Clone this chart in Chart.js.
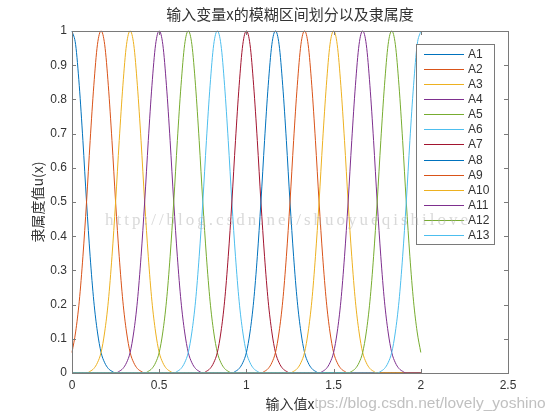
<!DOCTYPE html>
<html>
<head>
<meta charset="utf-8">
<script src="https://cdn.jsdelivr.net/npm/chart.js@4.4.1/dist/chart.umd.min.js"></script>
<style>
  html, body { margin: 0; padding: 0; background: #fff; }
  #wrap { width: 560px; height: 420px; }
</style>
</head>
<body>
<div id="wrap"><canvas id="fuzzy-chart" width="560" height="420"></canvas></div>
<script>
// ── Data ────────────────────────────────────────────────────────
const seriesNames = ['A1', 'A2', 'A3', 'A4', 'A5', 'A6', 'A7', 'A8', 'A9', 'A10', 'A11', 'A12', 'A13'];
// peak position of each membership function
const peakCenters = [0, 0.167, 0.333, 0.5, 0.667, 0.833, 1.0, 1.167, 1.333, 1.5, 1.667, 1.833, 2.0];
// membership height at 0, 1, 2 ... steps of 1/48 away from a peak (all curves share it)
const peakProfile = [1, 0.96, 0.84, 0.68, 0.5, 0.34, 0.21, 0.12, 0.06, 0.03, 0.013, 0.005, 0];
const sampleStep = 1 / 48;
const sampleCount = 97;          // samples over x = 0 .. 2
const seriesColors = ['#0072BD', '#D95319', '#EDB120', '#7E2F8E', '#77AC30', '#4DBEEE', '#A2142F',
                      '#0072BD', '#D95319', '#EDB120', '#7E2F8E', '#77AC30', '#4DBEEE'];
const xTickValues = [0, 0.5, 1, 1.5, 2, 2.5];
const xTickLabels = ['0', '0.5', '1', '1.5', '2', '2.5'];
const yTickValues = [0, 0.1, 0.2, 0.3, 0.4, 0.5, 0.6, 0.7, 0.8, 0.9, 1];
const yTickLabels = ['0', '0.1', '0.2', '0.3', '0.4', '0.5', '0.6', '0.7', '0.8', '0.9', '1'];

const titleText = '输入变量x的模糊区间划分以及隶属度';
const xTitle = '输入值x';
const yTitle = '隶属度值u(x)';
const watermarkMid = 'http://blog.csdn.net/shuoyueqishilove';
const watermarkCorner = 'https://blog.csdn.net/lovely_yoshino';

// ── Build datasets ──────────────────────────────────────────────
function profileAt(x, center) {
    const k = Math.round(Math.abs(x - center) / sampleStep);
    return k < peakProfile.length ? peakProfile[k] : 0;
}

const datasets = seriesNames.map((name, i) => {
    const pts = [];
    for (let s = 0; s < sampleCount; s++) {
        const x = s * sampleStep;
        pts.push({ x, y: profileAt(x, peakCenters[i]) });
    }
    return {
        label: name,
        data: pts,
        borderColor: seriesColors[i],
        borderWidth: 1,
        pointRadius: 0,
        fill: false,
        cubicInterpolationMode: 'monotone',
        clip: false,
        order: seriesNames.length - 1 - i,   // A13 on top
    };
});

// ── MATLAB-ish frame, titles, legend ───────────────────────────
const frameColor = '#7a7a7a';
const textColor = '#333333';

const matlabFrame = {
    id: 'matlabFrame',
    afterDraw(chart) {
        const { ctx, chartArea: a, scales } = chart;
        ctx.save();

        // box
        ctx.strokeStyle = frameColor;
        ctx.lineWidth = 1;
        ctx.strokeRect(Math.round(a.left) + 0.5, Math.round(a.top) + 0.5,
                       Math.round(a.right - a.left), Math.round(a.bottom - a.top));

        // inward ticks on all four sides
        const tl = 4;
        ctx.beginPath();
        xTickValues.forEach(v => {
            const px = Math.round(scales.x.getPixelForValue(v)) + 0.5;
            ctx.moveTo(px, a.bottom); ctx.lineTo(px, a.bottom - tl);
            ctx.moveTo(px, a.top); ctx.lineTo(px, a.top + tl);
        });
        yTickValues.forEach(v => {
            const py = Math.round(scales.y.getPixelForValue(v)) + 0.5;
            ctx.moveTo(a.left, py); ctx.lineTo(a.left + tl, py);
            ctx.moveTo(a.right, py); ctx.lineTo(a.right - tl, py);
        });
        ctx.stroke();

        // legend
        const lx = 416, ly = 44, lw = 78, lh = 200;
        ctx.fillStyle = '#fff';
        ctx.fillRect(lx, ly, lw, lh);
        ctx.strokeStyle = frameColor;
        ctx.strokeRect(lx + 0.5, ly + 0.5, lw, lh);
        ctx.font = '12px "Liberation Sans", Arial, sans-serif';
        ctx.textAlign = 'left';
        ctx.textBaseline = 'middle';
        seriesNames.forEach((name, i) => {
            const y = Math.round(54 + i * 15.08) + 0.5;
            ctx.strokeStyle = seriesColors[i];
            ctx.beginPath();
            ctx.moveTo(424, y); ctx.lineTo(464, y);
            ctx.stroke();
            ctx.fillStyle = textColor;
            ctx.fillText(name, 468, y);
        });

        // watermarks
        ctx.fillStyle = 'rgba(170,170,170,0.45)';
        ctx.font = '17px "Liberation Serif", "DejaVu Serif", serif';
        ctx.letterSpacing = '3px';
        ctx.fillText(watermarkMid, 105, 221);
        ctx.letterSpacing = '0px';
        ctx.fillStyle = 'rgba(185,185,185,0.9)';
        ctx.font = '15.5px "Liberation Sans", Arial, sans-serif';
        ctx.fillText(watermarkCorner, 301, 404);

        // titles
        ctx.fillStyle = textColor;
        ctx.textAlign = 'center';
        ctx.font = '15px "Noto Sans CJK SC", sans-serif';
        ctx.fillText(titleText, (a.left + a.right) / 2, 14);
        ctx.font = '14px "Noto Sans CJK SC", sans-serif';
        const xw = ctx.measureText(xTitle).width;
        const xc = (a.left + a.right) / 2;
        ctx.fillStyle = '#fff';
        ctx.fillRect(xc - xw / 2 - 1, 396, xw + 2, 16);
        ctx.fillStyle = textColor;
        ctx.fillText(xTitle, xc, 404);
        ctx.save();
        ctx.translate(38, (a.top + a.bottom) / 2);
        ctx.rotate(-Math.PI / 2);
        ctx.fillText(yTitle, 0, 0);
        ctx.restore();

        ctx.restore();
    },
};

// ── Chart ───────────────────────────────────────────────────────
const tickFont = { family: '"Liberation Sans", Arial, sans-serif', size: 12 };

new Chart(document.getElementById('fuzzy-chart'), {
    type: 'line',
    data: { datasets },
    options: {
        responsive: false,
        animation: false,
        events: [],
        layout: { padding: { left: 0, top: 31, right: 52, bottom: 0 } },
        plugins: { legend: { display: false }, tooltip: { enabled: false } },
        scales: {
            x: {
                type: 'linear', min: 0, max: 2.5,
                afterBuildTicks: s => { s.ticks = xTickValues.map(v => ({ value: v })); },
                afterFit: s => { s.height = 47; },
                ticks: {
                    callback: (v, i) => xTickLabels[i],
                    color: textColor, font: tickFont, padding: 5,
                    maxRotation: 0, autoSkip: false,
                },
                grid: { display: false, drawTicks: false },
                border: { display: false },
            },
            y: {
                type: 'linear', min: 0, max: 1,
                afterBuildTicks: s => { s.ticks = yTickValues.map(v => ({ value: v })); },
                afterFit: s => { s.width = 72; },
                ticks: {
                    callback: (v, i) => yTickLabels[i],
                    color: textColor, font: tickFont, padding: 5, autoSkip: false,
                },
                grid: { display: false, drawTicks: false },
                border: { display: false },
            },
        },
    },
    plugins: [matlabFrame],
});
</script>
</body>
</html>
